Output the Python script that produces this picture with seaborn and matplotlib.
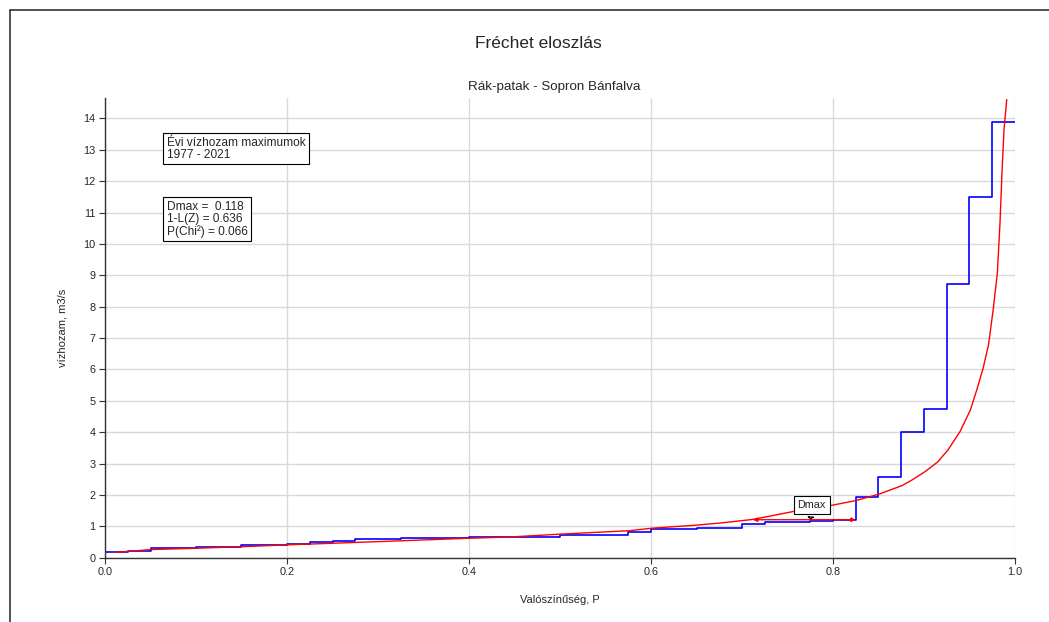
import numpy as np
import pandas as pd
import matplotlib
matplotlib.use("Agg")
import matplotlib.pyplot as plt
import seaborn as sns
from matplotlib.lines import Line2D

# Empirical (sorted annual maxima), 40 steps at k/40
emp_values = [0.17, 0.20, 0.32, 0.32, 0.35, 0.35, 0.40, 0.40, 0.44, 0.49,
              0.54, 0.59, 0.59, 0.62, 0.62, 0.62, 0.67, 0.67, 0.67, 0.67,
              0.73, 0.73, 0.73, 0.81, 0.92, 0.92, 0.95, 0.95, 1.06, 1.13,
              1.13, 1.18, 1.20, 1.93, 2.56, 4.00, 4.74, 8.73, 11.49, 13.90]

# Fitted Frechet curve
fit_p = [0.011, 0.051, 0.10, 0.15, 0.20, 0.25, 0.326, 0.40, 0.445, 0.50,
         0.576, 0.601, 0.651, 0.681, 0.712, 0.756, 0.797, 0.825, 0.851,
         0.876, 0.887, 0.901, 0.915, 0.926, 0.9396, 0.951, 0.958, 0.965,
         0.971, 0.976, 0.9806, 0.9835, 0.9857, 0.9879, 0.9909]
fit_q = [0.17, 0.26, 0.30, 0.35, 0.41, 0.46, 0.54, 0.62, 0.66, 0.75,
         0.86, 0.94, 1.04, 1.12, 1.22, 1.47, 1.66, 1.82, 2.03,
         2.30, 2.48, 2.74, 3.05, 3.42, 4.02, 4.71, 5.35, 6.04,
         6.80, 7.90, 9.07, 10.66, 12.26, 13.64, 14.60]

# Dmax marker
dmax_level = 1.21
dmax_p_fit = 0.712
dmax_p_emp = 0.825
dmax_label_p = 0.7766
dmax_label_q = 1.68

info_lines = ["Évi vízhozam maximumok", "1977 - 2021"]
stat_lines = ["Dmax =  0.118", "1-L(Z) = 0.636", "P(Chi²) = 0.066"]

n = len(emp_values)
emp_df = pd.DataFrame({"P": [k / n for k in range(n + 1)],
                       "Q": emp_values + [emp_values[-1]]})
fit_df = pd.DataFrame({"P": fit_p, "Q": fit_q})

sns.set_theme(style="white")
plt.rcParams['font.family'] = ['Liberation Sans', 'DejaVu Sans']

fig = plt.figure(figsize=(10.49, 6.22), dpi=100)
ax = fig.add_axes([105 / 1049, 64.3 / 622, 910 / 1049, 459.7 / 622])

sns.lineplot(data=emp_df, x="P", y="Q", ax=ax, color="#0000ff", lw=1.2,
             drawstyle="steps-post", estimator=None, sort=False)
sns.lineplot(data=fit_df, x="P", y="Q", ax=ax, color="#ff0000", lw=1.0,
             estimator=None, sort=False)

ax.set_xlim(0, 1.0)
ax.set_ylim(0, 14.65)
ax.set_xticks(np.arange(0, 1.01, 0.2))
ax.set_xticklabels([f"{v:.1f}" for v in np.arange(0, 1.01, 0.2)])
ax.set_yticks(range(0, 15))
ax.grid(True, color="#d9d9d9", lw=1.0)
ax.tick_params(axis="both", labelsize=7.8, length=4, width=0.8, color="#333333",
               direction="out", left=True, bottom=True, pad=3)
for s in ["top", "right"]:
    ax.spines[s].set_visible(False)
for s in ["left", "bottom"]:
    ax.spines[s].set_color("#333333")
    ax.spines[s].set_linewidth(1.0)

ax.set_xlabel("Valószínűség, P", fontsize=8, labelpad=13)
ax.set_ylabel("vízhozam, m3/s", fontsize=8, labelpad=11)

# Dmax double arrow
ax.annotate("", xy=(dmax_p_fit, dmax_level), xytext=(dmax_p_emp, dmax_level),
            arrowprops=dict(arrowstyle="<|-|>", color="#ff0000", lw=1.0,
                            mutation_scale=6, shrinkA=0, shrinkB=0))
ax.annotate("Dmax", xy=((dmax_p_fit + dmax_p_emp) / 2 + 0.007, dmax_level + 0.03),
            xytext=(dmax_label_p, dmax_label_q), ha="center", va="center",
            fontsize=7.8,
            bbox=dict(boxstyle="square,pad=0.35", fc="white", ec="black", lw=0.8),
            arrowprops=dict(arrowstyle="wedge,tail_width=0.5,shrink_factor=0.5",
                            fc="white", ec="black", lw=0.8, shrinkB=0))

# info boxes
ax.text(0.068, 0.916, "\n".join(info_lines), transform=ax.transAxes,
        fontsize=8.6, va="top", ha="left", linespacing=1.0,
        bbox=dict(boxstyle="square,pad=0.3", fc="white", ec="black", lw=0.8))
ax.text(0.068, 0.776, "\n".join(stat_lines), transform=ax.transAxes,
        fontsize=8.6, va="top", ha="left", linespacing=1.0,
        bbox=dict(boxstyle="square,pad=0.3", fc="white", ec="black", lw=0.8))

fig.text(538 / 1049, 1 - 43 / 622, "Fréchet eloszlás", ha="center",
         va="center", fontsize=12.5)
fig.text(554 / 1049, 1 - 87 / 622, "Rák-patak - Sopron Bánfalva", ha="center",
         va="center", fontsize=9.6)

# outer frame of the chart control
fig.add_artist(Line2D([10 / 1049, 10 / 1049], [0, 1 - 10 / 622], color="#333333",
                      lw=1.2, transform=fig.transFigure))
fig.add_artist(Line2D([10 / 1049, 1], [1 - 10 / 622, 1 - 10 / 622], color="#333333",
                      lw=1.2, transform=fig.transFigure))

fig.savefig("out.png", dpi=100)
